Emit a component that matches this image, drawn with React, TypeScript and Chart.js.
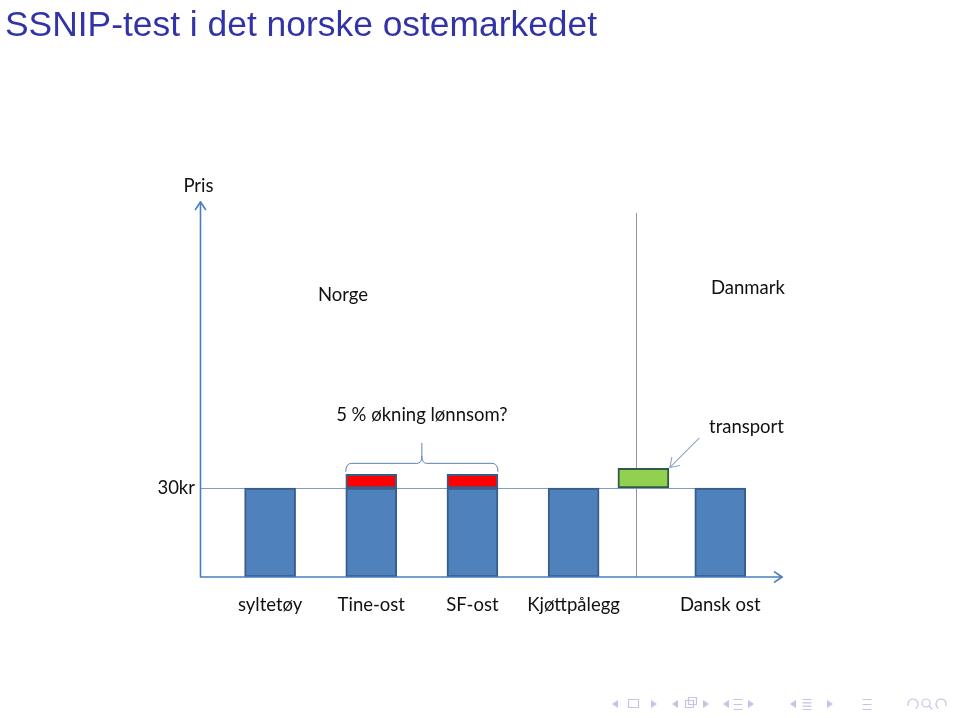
import React, { useEffect, useRef } from "react";
import { Chart, registerables } from "chart.js";

Chart.register(...registerables);

// ---- data ----
const TITLE = "SSNIP-test i det norske ostemarkedet";
const categories = ["syltetøy", "Tine-ost", "SF-ost", "Kjøttpålegg", "Dansk ost"];
const categoryX = [1, 2, 3, 4, 5.45];
const basePrice = [30, 30, 30, 30, 30];
const ssnipCategories = ["Tine-ost", "SF-ost"];
const ssnipTop = [34.6, 34.6];
const transportX = [4.69];
const transportTop = [36.6];
const borderX = 4.62; // Norge / Danmark border
const borderTop = 122.7;
const priceTick = 30;
const priceTickLabel = "30kr";
const yAxisLabel = "Pris";
const regionLabels = ["Norge", "Danmark"];
const questionLabel = "5 % økning lønnsom?";
const transportLabel = "transport";

const FONT = "Lato, 'Open Sans', sans-serif";
const AXIS_COLOR = "#4A7EBB";

function arrowHead(ctx: CanvasRenderingContext2D, x: number, y: number, ang: number, len: number) {
  ctx.beginPath();
  ctx.moveTo(x - len * Math.cos(ang - 0.6), y - len * Math.sin(ang - 0.6));
  ctx.lineTo(x, y);
  ctx.lineTo(x - len * Math.cos(ang + 0.6), y - len * Math.sin(ang + 0.6));
  ctx.stroke();
}

const decorPlugin = {
  id: "decor",
  beforeDatasetsDraw(chart: any) {
    const { ctx, scales } = chart;
    const x = scales.x, y = scales.y;
    ctx.save();
    const py = y.getPixelForValue(priceTick);
    ctx.strokeStyle = "#7F9CC4";
    ctx.lineWidth = 1;
    ctx.beginPath();
    ctx.moveTo(chart.chartArea.left, py + 0.5);
    ctx.lineTo(x.getPixelForValue(categoryX[categoryX.length - 1]), py + 0.5);
    ctx.stroke();
    const bx = Math.round(x.getPixelForValue(borderX)) + 0.5;
    ctx.strokeStyle = "#8C94A0";
    ctx.beginPath();
    ctx.moveTo(bx, y.getPixelForValue(borderTop));
    ctx.lineTo(bx, chart.chartArea.bottom);
    ctx.stroke();
    ctx.restore();
  },
  afterDatasetsDraw(chart: any) {
    const { ctx, scales, chartArea } = chart;
    const x = scales.x, y = scales.y;
    ctx.save();
    ctx.strokeStyle = AXIS_COLOR;
    ctx.lineWidth = 1.6;
    ctx.lineCap = "round";
    ctx.lineJoin = "round";
    const ax = chartArea.left + 0.5;
    const ay = chartArea.bottom;
    ctx.beginPath();
    ctx.moveTo(ax, ay);
    ctx.lineTo(ax, chartArea.top);
    ctx.moveTo(ax, ay);
    ctx.lineTo(chartArea.right, ay);
    ctx.stroke();
    arrowHead(ctx, ax, chartArea.top, -Math.PI / 2, 9);
    arrowHead(ctx, chartArea.right, ay, 0, 9);

    // brace over the SSNIP bars
    const meta = chart.getDatasetMeta(1);
    const b0 = meta.data[0], b1 = meta.data[meta.data.length - 1];
    const l = b0.x - b0.width / 2;
    const r = b1.x + b1.width / 2;
    const by = b0.y - 11;
    const mid = (l + r) / 2;
    ctx.strokeStyle = "#5A82B4";
    ctx.lineWidth = 1;
    ctx.beginPath();
    ctx.moveTo(l, by + 8);
    ctx.quadraticCurveTo(l, by, l + 6, by);
    ctx.lineTo(mid - 5, by);
    ctx.quadraticCurveTo(mid, by, mid, by - 7);
    ctx.lineTo(mid, by - 20);
    ctx.moveTo(mid, by - 7);
    ctx.quadraticCurveTo(mid, by, mid + 5, by);
    ctx.lineTo(r - 6, by);
    ctx.quadraticCurveTo(r, by, r, by + 8);
    ctx.stroke();

    // transport arrow
    const tm = chart.getDatasetMeta(2).data[0];
    const tx = tm.x + tm.width / 2 + 1;
    const ty = tm.y - 1;
    ctx.strokeStyle = "#8DA6C4";
    ctx.lineWidth = 1.1;
    ctx.beginPath();
    ctx.moveTo(tx + 29, ty - 29);
    ctx.lineTo(tx, ty);
    ctx.stroke();
    arrowHead(ctx, tx, ty, (3 * Math.PI) / 4, 10);

    // texts
    ctx.fillStyle = "#111111";
    ctx.textBaseline = "alphabetic";
    ctx.font = `18.5px ${FONT}`;
    ctx.textAlign = "center";
    ctx.fillText(yAxisLabel, ax - 2, 192);
    ctx.textAlign = "right";
    ctx.fillText(priceTickLabel, 195, y.getPixelForValue(priceTick) + 6);
    ctx.textAlign = "center";
    categories.forEach((c, i) => {
      ctx.fillText(c, x.getPixelForValue(categoryX[i]), 611);
    });
    ctx.textAlign = "left";
    ctx.fillText(regionLabels[0], 318, 301);
    ctx.fillText(regionLabels[1], 711, 294);
    ctx.fillText(transportLabel, 709, 433);
    ctx.textAlign = "center";
    ctx.fillText(questionLabel, mid, 421);

    // title
    ctx.fillStyle = "#3333A8";
    ctx.textAlign = "left";
    ctx.font = "35.4px 'Liberation Sans', Arial, sans-serif";
    ctx.fillText(TITLE, 5, 36);

    // beamer navigation symbols
    ctx.fillStyle = "#C4C4E4";
    ctx.strokeStyle = "#C4C4E4";
    ctx.lineWidth = 1.2;
    const cy = 704;
    const tri = (px: number, dir: number) => {
      ctx.beginPath();
      ctx.moveTo(px + dir * 3, cy - 4);
      ctx.lineTo(px - dir * 3, cy);
      ctx.lineTo(px + dir * 3, cy + 4);
      ctx.closePath();
      ctx.fill();
    };
    const lines = (px: number, n: number) => {
      for (let k = 0; k < n; k++) {
        ctx.beginPath();
        ctx.moveTo(px - 4, cy - 5 + k * (10 / (n - 1)) + 0.5);
        ctx.lineTo(px + 4, cy - 5 + k * (10 / (n - 1)) + 0.5);
        ctx.stroke();
      }
    };
    tri(615, 1); ctx.strokeRect(628.5, 699.5, 10, 8); tri(654, -1);
    tri(675, 1); ctx.strokeRect(685.5, 700.5, 8, 7); ctx.strokeRect(688.5, 697.5, 8, 7); tri(706, -1);
    tri(726, 1); lines(738, 3); tri(751, -1);
    tri(793, 1); lines(807, 4); tri(830, -1);
    lines(867, 3);
    ctx.beginPath(); ctx.arc(913, cy, 5, Math.PI * 0.9, Math.PI * 2.3); ctx.stroke();
    ctx.beginPath(); ctx.arc(926, cy - 1, 4, 0, Math.PI * 2); ctx.moveTo(929, cy + 2); ctx.lineTo(932, cy + 5); ctx.stroke();
    ctx.beginPath(); ctx.arc(941, cy, 5, Math.PI * 0.7, Math.PI * 2.1); ctx.stroke();
    ctx.restore();
  },
};

export default function App() {
  const ref = useRef<HTMLCanvasElement | null>(null);
  useEffect(() => {
    if (!ref.current) return;
    const posOf = (c: string) => categoryX[categories.indexOf(c)];
    const chart = new Chart(ref.current, {
      type: "bar",
      data: {
        datasets: [
          {
            label: "pris",
            data: categoryX.map((xv, i) => ({ x: xv, y: basePrice[i] })),
            backgroundColor: "#4F81BD",
            borderColor: "#385D8A",
            borderWidth: 2,
            borderSkipped: false,
            barThickness: 51,
            grouped: false,
          } as any,
          {
            label: "SSNIP",
            data: ssnipCategories.map((c, i) => ({ x: posOf(c), y: [priceTick, ssnipTop[i]] })),
            backgroundColor: "#FF0000",
            borderColor: "#385D8A",
            borderWidth: 2,
            borderSkipped: false,
            barThickness: 51,
            grouped: false,
          } as any,
          {
            label: "transport",
            data: transportX.map((xv, i) => ({ x: xv, y: [priceTick, transportTop[i]] })),
            backgroundColor: "#92D050",
            borderColor: "#2F5A4C",
            borderWidth: 2,
            borderSkipped: false,
            barThickness: 51,
            grouped: false,
          } as any,
        ],
      },
      options: {
        animation: false,
        responsive: false,
        maintainAspectRatio: false,
        layout: { padding: { left: 200, top: 202, right: 178, bottom: 141 } },
        scales: {
          x: { type: "linear", min: 0.307, max: 6.06, offset: false, display: false },
          y: { type: "linear", min: 0, max: 126.4, display: false },
        },
        plugins: { legend: { display: false }, tooltip: { enabled: false } },
      },
      plugins: [decorPlugin],
    });
    return () => chart.destroy();
  }, []);
  return (
    <div style={{ position: "fixed", left: 0, top: 0, width: 960, height: 718, background: "#fff" }}>
      <canvas ref={ref} width={960} height={718} style={{ display: "block", width: 960, height: 718 }} />
    </div>
  );
}
